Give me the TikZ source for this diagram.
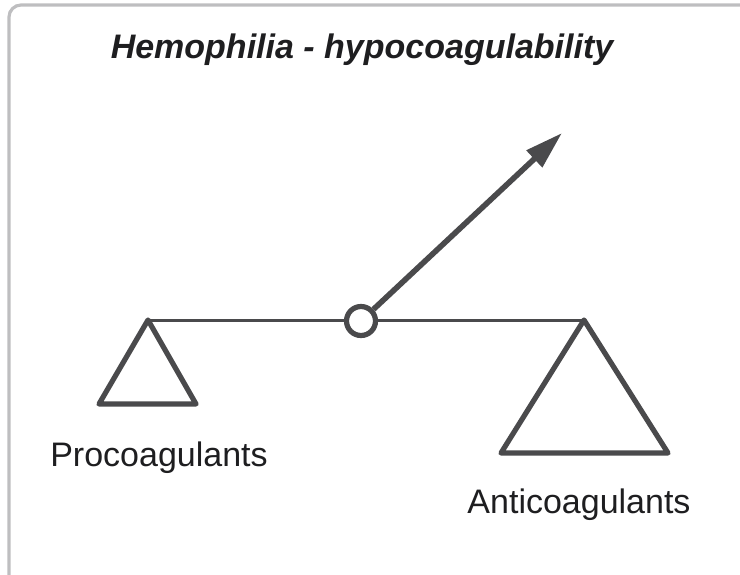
\documentclass[tikz,border=0pt]{standalone}
\usepackage{fontspec}
\setmainfont{Liberation Sans}
\usetikzlibrary{arrows.meta, positioning}

\definecolor{beamgray}{RGB}{74,74,76}
\definecolor{framegray}{RGB}{190,190,192}
\definecolor{textblack}{RGB}{30,30,32}

\begin{document}
\begin{tikzpicture}[x=0.5pt, y=-0.5pt, font=\fontsize{17}{20}\selectfont]

        % Setup the styles for the balance
        \tikzset{pivot style/.style={circle,
                                     draw=beamgray,
                                     line width=2.6pt,
                                     fill=white,
                                     inner sep=0pt,
                                     minimum size=14.5pt},
                 pan style/.style={draw=beamgray,
                                   line width=2.6pt,
                                   line join=round,
                                   fill=white},
                 beam style/.style={draw=beamgray,
                                    line width=1.5pt},
                 label style/.style={anchor=base, text=textblack}}

        \useasboundingbox (0,0) rectangle (740,574);

        % Frame
        \draw[framegray, line width=1.6pt, rounded corners=6pt]
            (9,5) rectangle (760,600);

        % Title
        \node[label style, font=\fontsize{17}{20}\selectfont\bfseries\itshape]
            at (362,58) (title) {Hemophilia - hypocoagulability};

        % Draw the pans and the pivot
        \coordinate (procoag) at (148,320);
        \coordinate (anticoag) at (584,320);
        \coordinate (tip) at (562,133);

        \draw[pan style] (procoag) -- (196,404) -- (99,404) -- cycle;
        \draw[pan style] (anticoag) -- (668,453) -- (501,453) -- cycle;

        \draw[beam style] (procoag) -- (anticoag);
        \node[pivot style] at (361,321) (pivot) {};

        % Tilt arrow
        \draw[beamgray, line width=2.8pt,
              -{Triangle[length=19pt, width=11pt]}]
            (pivot) -- (tip);

        % Labels
        \node[label style] at (159,466) (procoaglabel) {Procoagulants};
        \node[label style] at (579,513) (anticoaglabel) {Anticoagulants};

\end{tikzpicture}
\end{document}
